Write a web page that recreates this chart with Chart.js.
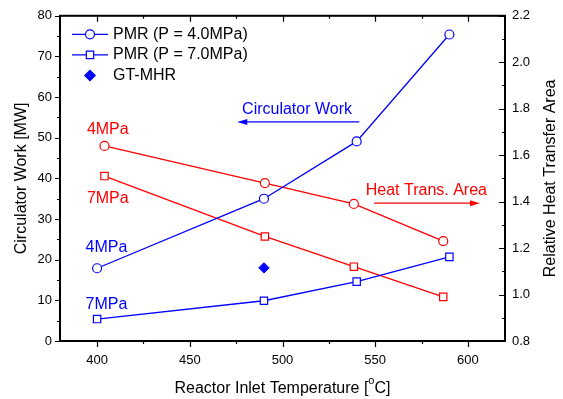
<!DOCTYPE html>
<html>
<head>
<meta charset="utf-8">
<script src="https://cdn.jsdelivr.net/npm/chart.js@4"></script>
<style>
  html, body { margin: 0; padding: 0; background: #fff; }
</style>
</head>
<body>
<canvas id="chart" width="563" height="399"></canvas>
<script>
// reactor inlet temperature [C] and values
var tempTicks = [400, 450, 500, 550, 600];

var work4X = [400, 490, 540, 590];
var work4 = [17.9, 35.0, 49.1, 75.4];     // PMR 4.0 MPa, circulator work [MW]
var work7X = [400, 490, 540, 590];
var work7 = [5.4, 9.9, 14.6, 20.7];       // PMR 7.0 MPa, circulator work [MW]
var gtX = [490];
var gtWork = [18.0];                      // GT-MHR

var area4X = [404, 490.5, 538.5, 586.7];
var area4 = [1.64, 1.48, 1.39, 1.23];     // relative heat transfer area, 4 MPa
var area7X = [404, 490.5, 538.5, 586.7];
var area7 = [1.51, 1.25, 1.12, 0.99];     // relative heat transfer area, 7 MPa

var BLUE = '#0000ff';
var RED = '#ff0000';
var FONT = "'Liberation Sans', Arial, sans-serif";

function pts(xs, ys) {
  return xs.map(function (x, i) { return { x: x, y: ys[i] }; });
}

function txt(ctx, s, x, y, color, size, align) {
  ctx.fillStyle = color;
  ctx.font = size + 'px ' + FONT;
  ctx.textAlign = align || 'left';
  ctx.textBaseline = 'middle';
  ctx.fillText(s, x, y);
}

function arrow(ctx, x1, x2, y, color) {
  var dir = x2 > x1 ? 1 : -1;
  ctx.strokeStyle = color;
  ctx.fillStyle = color;
  ctx.lineWidth = 1.2;
  ctx.beginPath();
  ctx.moveTo(x1, y);
  ctx.lineTo(x2 - dir * 6, y);
  ctx.stroke();
  ctx.beginPath();
  ctx.moveTo(x2, y);
  ctx.lineTo(x2 - dir * 10, y - 3);
  ctx.lineTo(x2 - dir * 10, y + 3);
  ctx.closePath();
  ctx.fill();
}

var decorations = {
  id: 'decorations',
  afterDatasetsDraw: function (chart) {
    var ctx = chart.ctx;
    var a = chart.chartArea;
    var sx = chart.scales.x, sy = chart.scales.y, sy2 = chart.scales.y2;
    ctx.save();

    // frame
    ctx.strokeStyle = '#000';
    ctx.lineWidth = 2;
    ctx.strokeRect(a.left, a.top, a.right - a.left, a.bottom - a.top);

    // ticks
    ctx.lineWidth = 1.2;
    ctx.beginPath();
    var v, p, len;
    for (v = 400; v <= 600; v += 25) {
      p = Math.round(sx.getPixelForValue(v)) + 0.5;
      len = v % 50 === 0 ? 6 : 3;
      ctx.moveTo(p, a.bottom); ctx.lineTo(p, a.bottom + len);
      ctx.moveTo(p, a.top); ctx.lineTo(p, a.top + len);
    }
    for (v = 0; v <= 80; v += 5) {
      p = Math.round(sy.getPixelForValue(v)) + 0.5;
      len = v % 10 === 0 ? 5 : 3;
      ctx.moveTo(a.left, p); ctx.lineTo(a.left - len, p);
    }
    for (v = 8; v <= 22; v += 1) {
      p = Math.round(sy2.getPixelForValue(v / 10)) + 0.5;
      len = v % 2 === 0 ? 6 : 3;
      ctx.moveTo(a.right, p); ctx.lineTo(a.right - len, p);
    }
    ctx.stroke();

    // axis titles
    ctx.save();
    ctx.translate(22, (a.top + a.bottom) / 2);
    ctx.rotate(-Math.PI / 2);
    txt(ctx, 'Circulator Work [MW]', 0, 0, '#000', 16, 'center');
    ctx.restore();

    ctx.save();
    ctx.translate(551, (a.top + a.bottom) / 2);
    ctx.rotate(-Math.PI / 2);
    txt(ctx, 'Relative Heat Transfer Area', 0, 0, '#000', 16, 'center');
    ctx.restore();

    var t1 = 'Reactor Inlet Temperature [', t2 = 'o', t3 = 'C]';
    ctx.font = '16px ' + FONT;
    var w1 = ctx.measureText(t1).width, w3 = ctx.measureText(t3).width;
    ctx.font = '11px ' + FONT;
    var w2 = ctx.measureText(t2).width;
    var x0 = (a.left + a.right) / 2 - (w1 + w2 + w3) / 2;
    ctx.fillStyle = '#000';
    ctx.textAlign = 'left';
    ctx.textBaseline = 'alphabetic';
    ctx.font = '16px ' + FONT;
    ctx.fillText(t1, x0, 393);
    ctx.fillText(t3, x0 + w1 + w2, 393);
    ctx.font = '11px ' + FONT;
    ctx.fillText(t2, x0 + w1, 384);

    // legend
    var items = [
      { label: 'PMR (P = 4.0MPa)', style: 'circle', line: true, fill: '#fff', r: 4.5 },
      { label: 'PMR (P = 7.0MPa)', style: 'rect', line: true, fill: '#fff', r: 5.2 },
      { label: 'GT-MHR', style: 'rectRot', line: false, fill: BLUE, r: 5.2 }
    ];
    items.forEach(function (it, i) {
      var y = 34.3 + i * 20.6;
      if (it.line) {
        ctx.strokeStyle = BLUE;
        ctx.lineWidth = 1.3;
        ctx.beginPath();
        ctx.moveTo(72, y); ctx.lineTo(108, y);
        ctx.stroke();
      }
      ctx.strokeStyle = BLUE;
      ctx.fillStyle = it.fill;
      ctx.lineWidth = 1.2;
      Chart.helpers.drawPoint(ctx, { pointStyle: it.style, radius: it.r, borderWidth: 1.2 }, 90, y);
      txt(ctx, it.label, 113, y, '#000', 16);
    });

    // annotations
    function X(v) { return sx.getPixelForValue(v); }
    function Y(v) { return sy.getPixelForValue(v); }
    txt(ctx, '4MPa', X(394.5), Y(52.1), RED, 16);
    txt(ctx, '7MPa', X(394.5), Y(35.0), RED, 16);
    txt(ctx, '4MPa', X(393.8), Y(22.9), BLUE, 16);
    txt(ctx, '7MPa', X(393.8), Y(9.0), BLUE, 16);
    txt(ctx, 'Circulator Work', X(478.2), Y(57.0), BLUE, 16);
    arrow(ctx, X(541.4), X(475.6), Y(53.9), BLUE);
    txt(ctx, 'Heat Trans. Area', X(544.9), Y(37.0), RED, 16);
    arrow(ctx, X(549.4), X(606.5), Y(33.9), RED);

    ctx.restore();
  }
};

function lineSet(data, color, style, r, axis) {
  return {
    data: data,
    yAxisID: axis,
    borderColor: color,
    borderWidth: 1.3,
    pointStyle: style,
    pointRadius: r,
    pointBorderWidth: 1.2,
    pointBorderColor: color,
    pointBackgroundColor: '#fff',
    fill: false,
    tension: 0
  };
}

new Chart(document.getElementById('chart'), {
  type: 'line',
  data: {
    datasets: [
      lineSet(pts(work4X, work4), BLUE, 'circle', 4.5, 'y'),
      lineSet(pts(work7X, work7), BLUE, 'rect', 5.2, 'y'),
      lineSet(pts(area4X, area4), RED, 'circle', 4.5, 'y2'),
      lineSet(pts(area7X, area7), RED, 'rect', 5.2, 'y2'),
      {
        data: pts(gtX, gtWork),
        yAxisID: 'y',
        showLine: false,
        pointStyle: 'rectRot',
        pointRadius: 5.2,
        pointBorderWidth: 1,
        pointBorderColor: BLUE,
        pointBackgroundColor: BLUE
      }
    ]
  },
  options: {
    responsive: false,
    animation: false,
    events: [],
    layout: { padding: { top: 14, left: 0, right: 0, bottom: 0 }, autoPadding: false },
    plugins: { legend: { display: false }, tooltip: { enabled: false } },
    scales: {
      x: {
        type: 'linear',
        min: 380,
        max: 620,
        grid: { display: false, drawTicks: false },
        border: { display: false },
        afterBuildTicks: function (s) {
          s.ticks = tempTicks.map(function (v) { return { value: v }; });
        },
        afterFit: function (s) { s.height = 58; },
        ticks: { padding: 12, color: '#000', font: { family: FONT, size: 13 } }
      },
      y: {
        position: 'left',
        min: 0,
        max: 80,
        grid: { display: false, drawTicks: false },
        border: { display: false },
        afterFit: function (s) { s.width = 60; },
        ticks: { stepSize: 10, padding: 8, color: '#000', font: { family: FONT, size: 13 } }
      },
      y2: {
        position: 'right',
        min: 0.8,
        max: 2.2,
        grid: { display: false, drawTicks: false },
        border: { display: false },
        afterFit: function (s) { s.width = 58; },
        ticks: {
          stepSize: 0.2,
          padding: 7,
          color: '#000',
          font: { family: FONT, size: 13 },
          callback: function (v) { return v.toFixed(1); }
        }
      }
    }
  },
  plugins: [decorations]
});
</script>
</body>
</html>
